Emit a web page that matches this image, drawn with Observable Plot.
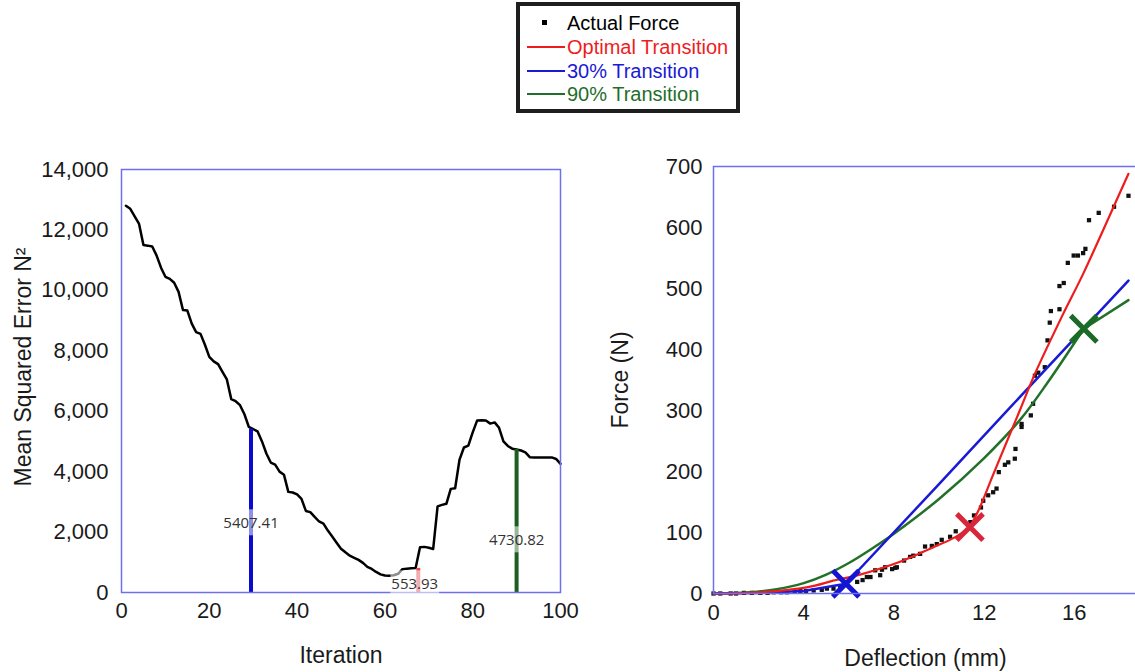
<!DOCTYPE html>
<html>
<head>
<meta charset="utf-8">
<script src="https://cdn.jsdelivr.net/npm/d3@7"></script>
<script src="https://cdn.jsdelivr.net/npm/@observablehq/plot@0.6"></script>
<style>
  html, body { margin: 0; padding: 0; background: #fff; }
  body { width: 1135px; height: 672px; overflow: hidden; position: relative;
         font-family: "Liberation Sans", Arial, sans-serif; }
  #legend { position: absolute; left: 516px; top: 2px; width: 216px; height: 103px;
            border: 4px solid #1e1e1e; background: #fff; box-sizing: content-box; }
  .row { position: absolute; left: 0; height: 24px; width: 216px; }
  .sw { position: absolute; left: 7px; top: 11px; width: 38px; height: 2px; }
  .dotsw { position: absolute; left: 22px; top: 9px; width: 5px; height: 5px; background: #000; }
  .lab { position: absolute; left: 47px; top: 0; line-height: 24px; font-size: 20px; white-space: nowrap; }
  #left { position: absolute; left: 0; top: 120px; width: 590px; }
  #right { position: absolute; left: 600px; top: 120px; width: 547px; }
  #left svg, #right svg { max-width: none !important; }
</style>
</head>
<body>
<div id="legend"></div>
<div id="left"></div>
<div id="right"></div>
<script>
// ---------------- DATA ----------------
// Left chart: mean squared error per iteration (1..100)
const mse = [
  12800, 12700, 12450, 12200, 11500, 11480, 11450, 11150, 10750, 10450,
  10380, 10250, 9950, 9350, 9330, 8900, 8620, 8560, 8200, 7800,
  7650, 7560, 7300, 7050, 6400, 6330, 6200, 5900, 5480, 5407,
  5330, 5000, 4600, 4300, 4230, 4000, 3900, 3330, 3310, 3250,
  3100, 2700, 2660, 2500, 2350, 2280, 2050, 1850, 1650, 1450,
  1330, 1220, 1150, 1080, 980, 850, 780, 680, 600, 560,
  554, 570, 620, 770, 790, 800, 810, 1500, 1510, 1480,
  1440, 2850, 2900, 2935, 3430, 3450, 4400, 4800, 4860, 5300,
  5690, 5700, 5690, 5590, 5630, 5450, 5000, 4850, 4760, 4730,
  4700, 4640, 4480, 4470, 4470, 4470, 4470, 4470, 4420, 4260
];
const xTicksLeft = [0, 20, 40, 60, 80, 100];
const yTicksLeft = [0, 2000, 4000, 6000, 8000, 10000, 12000, 14000];

// transitions marked on the left chart
const transIter   = [29.5, 67.6, 90];
const transTop    = [5407.41, 800, 4730.82];
const transLabel  = ["5407.41", "553.93", "4730.82"];
const transLabelX = [29.5, 66.8, 90];
const transLabelY = [2284, 265, 1721];
const transColor  = ["#0a0ad0", "#e24a55", "#1b5e20"];

// Right chart: actual force points
const deflection = [0, 0.3, 0.76, 1.0, 1.35, 1.7, 2.08, 2.4, 2.67, 3.0, 3.26, 3.6, 3.85, 4.1, 4.44, 4.8,
  5.03, 5.32, 5.62, 6.37, 6.61, 6.80, 6.96, 7.17, 7.39, 7.47, 7.61, 7.92, 8.06, 8.13, 8.45, 8.72,
  8.86, 9.16, 9.38, 9.68, 9.9, 10.12, 10.49, 10.74, 11.39, 11.55, 11.86, 11.96, 12.18, 12.40,
  12.55, 12.65, 12.92, 13.07, 13.36, 13.39, 13.66, 13.66, 14.07, 14.17, 14.25, 14.4, 14.69,
  14.81, 14.91, 14.96, 15.34, 15.34, 15.53, 15.71, 15.97, 16.16, 16.39, 16.49, 16.65, 17.08,
  17.76, 18.4];
const force = [0, 0, 0, 0, 1, 1, 1, 1, 2, 2, 2, 3, 4, 4, 5, 6,
  8, 8, 10, 19, 22, 27, 27, 38, 30, 39, 43, 40, 42, 43, 54, 60,
  62, 65, 77, 78, 81, 88, 93, 102, 117, 128, 141, 152, 161, 166,
  172, 199, 211, 215, 221, 237, 273, 278, 292, 311, 357, 362, 371,
  415, 444, 463, 466, 504, 509, 542, 554, 554, 558, 565, 612, 624,
  634, 652];

// fitted curves (each split at its transition point)
const optimalLowDef   = [0, 1.5, 3.1, 4.5, 5.3, 6.5, 8.27, 9.75, 10.7, 11.37];
const optimalLowForce = [0, 1, 5, 13, 21, 31, 52, 76, 92, 109];
const optimalUpDef    = [11.37, 11.81, 12.4, 13.58, 14.25, 15.5, 16.39, 18.3, 18.4];
const optimalUpForce  = [109, 141, 195, 300, 360, 458, 524, 680, 688];
const thirtyDef    = [0, 2, 4, 5.87, 10.04, 13.0, 18.4];
const thirtyForce  = [0, 1, 4, 16, 181, 299, 513];
const ninetyLowDef   = [0, 1.6, 2.8, 4.0, 5.0, 6.0, 7.0, 8.0, 10.0, 12.0, 13.6, 14.8, 16.42];
const ninetyLowForce = [0, 2, 7, 17, 31, 50, 73, 98, 155, 222, 285, 345, 434];
const ninetyUpDef    = [16.42, 18.4];
const ninetyUpForce  = [434, 481];

// transition markers on the right chart
const markerDef   = [5.87, 11.37, 16.42];
const markerForce = [16, 109, 434];
const markerColor = ["#1414d4", "#d9263a", "#1a6a28"];

const xTicksRight = [0, 4, 8, 12, 16];
const yTicksRight = [0, 100, 200, 300, 400, 500, 600, 700];

// legend
const legendLabels = ["Actual Force", "Optimal Transition", "30% Transition", "90% Transition"];
const legendColors = ["#000000", "#ee1d1d", "#1a1ad6", "#1f6e2a"];
const lineColors = { optimal: "#ee1d1d", thirty: "#1a1ad6", ninety: "#237028" };

// ---------------- TABLES ----------------
const mseTable = mse.map((v, i) => ({ iteration: i + 1, mse: v }));
const transTable = transIter.map((it, i) => ({
  iteration: it, top: transTop[i], label: transLabel[i],
  lx: transLabelX[i], ly: transLabelY[i], color: transColor[i]
}));
const forceTable = deflection.map((d, i) => ({ d, f: force[i] }));
const mk = (xs, ys) => xs.map((x, i) => ({ d: x, f: ys[i] }));
const optimalLowTable = mk(optimalLowDef, optimalLowForce);
const optimalUpTable = mk(optimalUpDef, optimalUpForce);
const thirtyTable = mk(thirtyDef, thirtyForce);
const ninetyLowTable = mk(ninetyLowDef, ninetyLowForce);
const ninetyUpTable = mk(ninetyUpDef, ninetyUpForce);
const markerTable = markerDef.map((d, i) => ({ d, f: markerForce[i], color: markerColor[i] }));

// ---------------- LEGEND ----------------
const legend = document.getElementById("legend");
legendLabels.forEach((lab, i) => {
  const row = document.createElement("div");
  row.className = "row";
  row.style.top = (5 + i * 24 - (i === 3 ? 1 : 0)) + "px";
  const sw = document.createElement("div");
  if (i === 0) { sw.className = "dotsw"; }
  else { sw.className = "sw"; sw.style.background = legendColors[i]; }
  const t = document.createElement("div");
  t.className = "lab";
  t.style.color = legendColors[i];
  t.textContent = lab;
  row.appendChild(sw); row.appendChild(t);
  legend.appendChild(row);
});

const frameColor = "#6f6fee";
const fontFam = "Liberation Sans, Arial, sans-serif";

// ---------------- LEFT CHART ----------------
const leftPlot = Plot.plot({
  width: 590, height: 552,
  marginLeft: 121, marginRight: 30, marginTop: 49, marginBottom: 80,
  style: { fontFamily: fontFam, fontSize: "22px", color: "#1a1a1a", background: "transparent", overflow: "visible" },
  color: { type: "identity" },
  x: { domain: [0, 100], ticks: xTicksLeft, label: null, tickSize: 0, tickPadding: 10 },
  y: { domain: [0, 14000], ticks: yTicksLeft, tickFormat: d3.format(","), label: null, tickSize: 0, tickPadding: 13 },
  marks: [
    Plot.line(mseTable, { x: "iteration", y: "mse", stroke: "#000", strokeWidth: 2.5, strokeLinejoin: "round" }),
    Plot.ruleX(transTable, { x: "iteration", y1: 0, y2: "top", stroke: "color", strokeWidth: 4 }),
    Plot.frame({ stroke: frameColor, strokeWidth: 1.5 }),
    Plot.text(transTable, { x: "lx", y: "ly", text: "label", fill: "#333", fontSize: 15,
      fontFamily: "Open Sans, sans-serif", textAnchor: "middle", lineAnchor: "middle" }),
    Plot.text(["Iteration"], { frameAnchor: "bottom", dy: 63, fontSize: 23, fill: "#1a1a1a", lineAnchor: "middle", textAnchor: "middle" }),
    Plot.text(["Mean Squared Error N²"], { frameAnchor: "left", dx: -98, dy: -14, rotate: -90, fontSize: 23, fill: "#1a1a1a", lineAnchor: "middle", textAnchor: "middle" })
  ]
});
leftPlot.style.maxWidth = "none";
document.getElementById("left").appendChild(leftPlot);

// semi-transparent white boxes behind the transition labels
d3.select(leftPlot).selectAll("text")
  .filter(function () { return transLabel.includes(this.textContent) && this.childElementCount === 0; })
  .each(function () {
    const node = this;
    const b = node.getBBox();
    const cy = b.y + b.height / 2;
    d3.select(node.parentNode).insert("rect", () => node)
      .attr("x", b.x - 1).attr("width", b.width + 2)
      .attr("y", cy - 13).attr("height", 26)
      .attr("transform", node.getAttribute("transform"))
      .attr("fill", "#fff").attr("fill-opacity", 0.55);
  });

// ---------------- RIGHT CHART ----------------
const rightPlot = Plot.plot({
  width: 547, height: 552,
  marginLeft: 113, marginRight: 10, marginTop: 46, marginBottom: 79,
  style: { fontFamily: fontFam, fontSize: "22px", color: "#1a1a1a", background: "transparent", overflow: "visible" },
  color: { type: "identity" },
  x: { domain: [0, 18.8], ticks: xTicksRight, label: null, tickSize: 0, tickPadding: 11 },
  y: { domain: [0, 700], ticks: yTicksRight, label: null, tickSize: 0, tickPadding: 11 },
  marks: [
    Plot.dot(forceTable, { x: "d", y: "f", symbol: "square", r: 2.4, fill: "#111", stroke: "none" }),
    Plot.line(ninetyLowTable, { x: "d", y: "f", stroke: lineColors.ninety, strokeWidth: 2.5, curve: "catmull-rom" }),
    Plot.line(ninetyUpTable, { x: "d", y: "f", stroke: lineColors.ninety, strokeWidth: 2.5, curve: "linear" }),
    Plot.line(thirtyTable, { x: "d", y: "f", stroke: lineColors.thirty, strokeWidth: 2.5, curve: "linear" }),
    Plot.line(optimalLowTable, { x: "d", y: "f", stroke: lineColors.optimal, strokeWidth: 2.2, curve: "catmull-rom" }),
    Plot.line(optimalUpTable, { x: "d", y: "f", stroke: lineColors.optimal, strokeWidth: 2.2, curve: "catmull-rom" }),
    Plot.dot(markerTable, { x: "d", y: "f", symbol: "times", r: 12, stroke: "color", strokeWidth: 5 }),
    Plot.frame({ stroke: frameColor, strokeWidth: 1.5 }),
    Plot.text(["Deflection (mm)"], { frameAnchor: "bottom", dy: 65, fontSize: 23, fill: "#1a1a1a", lineAnchor: "middle", textAnchor: "middle" }),
    Plot.text(["Force (N)"], { frameAnchor: "left", dx: -93, dy: 0, rotate: -90, fontSize: 23, fill: "#1a1a1a", lineAnchor: "middle", textAnchor: "middle" })
  ]
});
rightPlot.style.maxWidth = "none";
document.getElementById("right").appendChild(rightPlot);
</script>
</body>
</html>
